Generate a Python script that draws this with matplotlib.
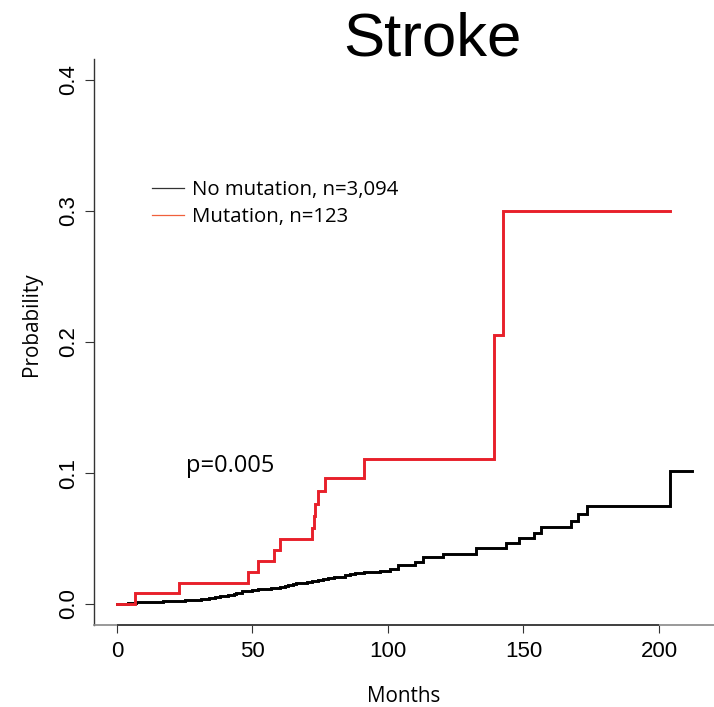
import matplotlib
matplotlib.use("Agg")
import matplotlib.pyplot as plt
from matplotlib.lines import Line2D

# cumulative incidence of stroke, step functions (months, probability)
no_mut_months = [0, 2, 4, 7, 10, 12, 15, 17, 20, 22, 25, 28, 31, 34, 36, 38,
                 40, 41, 43, 44, 46, 47, 50, 52, 55, 57, 60, 62, 63, 65, 66,
                 68, 70, 72, 74, 76, 78, 80, 82, 84, 86, 88, 89, 91, 93, 95,
                 97, 100.6, 103.6, 110, 112.8, 120.2, 132.5, 143.6, 148.5,
                 153.7, 156.5, 167.6, 170, 173.4, 204.1, 212]
no_mut_prob = [0, 0.0003, 0.0005, 0.0012, 0.0014, 0.0016, 0.0018, 0.0020,
               0.0023, 0.0025, 0.0029, 0.0033, 0.0039, 0.0045, 0.0051, 0.0058,
               0.0064, 0.0070, 0.0079, 0.0088, 0.0096, 0.0103, 0.0108, 0.0112,
               0.0117, 0.0122, 0.0130, 0.0136, 0.0142, 0.0150, 0.0158, 0.0163,
               0.0168, 0.0175, 0.0182, 0.0188, 0.0195, 0.0203, 0.0210, 0.0219,
               0.0228, 0.0234, 0.0240, 0.0243, 0.0245, 0.0248, 0.0250, 0.0267,
               0.0300, 0.0320, 0.0359, 0.0382, 0.0424, 0.0463, 0.0504, 0.0542,
               0.0585, 0.0636, 0.0689, 0.0750, 0.1017, 0.1017]

mut_months = [0, 6.5, 23, 48.3, 52.2, 58.1, 60, 71.8, 72.6, 73.1, 74.1, 76.9,
              91, 139.3, 142.5, 204]
mut_prob = [0, 0.0081, 0.0163, 0.0244, 0.0328, 0.0410, 0.0496, 0.0580,
            0.0674, 0.0766, 0.0860, 0.0962, 0.111, 0.205, 0.300, 0.300]

legend_labels = ["No mutation, n=3,094", "Mutation, n=123"]
x_ticks = [0, 50, 100, 150, 200]
y_ticks = [0.0, 0.1, 0.2, 0.3, 0.4]
p_label = "p=0.005"

NUM_FONT = "Liberation Sans"
TXT_FONT = "Open Sans"
W, H = 714, 707

fig = plt.figure(figsize=(W / 100, H / 100), dpi=100)
ax = fig.add_axes([94 / W, 1 - 625 / H, 620.5 / W, 566 / H])

ax.step(no_mut_months, no_mut_prob, where="post", color="black", lw=2.1,
        solid_joinstyle="miter")
ax.step(mut_months, mut_prob, where="post", color="#e8202a", lw=2.1,
        solid_joinstyle="miter")

# R-style limits: 4% padding on each side
xpad = 0.04 * 212
ypad = 0.04 * 0.4
ax.set_xlim(-xpad, 212 + xpad)
ax.set_ylim(-ypad, 0.4 + ypad)

for s in ("top", "right"):
    ax.spines[s].set_visible(False)
ax.spines["left"].set_color("#333333")
ax.spines["left"].set_linewidth(1.0)
ax.spines["bottom"].set_color("#888888")
ax.spines["bottom"].set_linewidth(1.2)
ax.hlines(-ypad, x_ticks[0], x_ticks[-1], color="#333333", lw=1.2,
          clip_on=False, zorder=3)

ax.set_xticks(x_ticks)
ax.set_xticklabels([str(t) for t in x_ticks], fontfamily=NUM_FONT, fontsize=16)
ax.set_yticks(y_ticks)
ax.set_yticklabels([f"{t:.1f}" for t in y_ticks], fontfamily=NUM_FONT,
                   fontsize=16, rotation=90, va="center")
ax.tick_params(axis="x", direction="out", length=6, width=0.8,
               color="#333333", pad=5.5)
ax.tick_params(axis="y", direction="out", length=6.5, width=0.8,
               color="#333333", pad=4)

fig.text(432.5 / W, 1 - 56 / H, "Stroke", fontfamily=NUM_FONT, fontsize=44.5,
         ha="center", va="baseline")
fig.text(404 / W, 1 - 702 / H, "Months", fontfamily=TXT_FONT, fontsize=14.9,
         ha="center", va="baseline")
fig.text(31 / W, 1 - 324 / H, "Probability", fontfamily=TXT_FONT,
         fontsize=14.9, ha="center", va="center", rotation=90)
fig.text(186.5 / W, 1 - 471.7 / H, p_label, fontfamily=TXT_FONT, fontsize=17,
         ha="left", va="baseline")

handles = [Line2D([], [], color="#333333", lw=0.9),
           Line2D([], [], color="#f0603c", lw=0.9)]
ax.legend(handles, legend_labels, loc="upper left",
          bbox_to_anchor=(151.7 / W, 1 - 180 / H),
          bbox_transform=fig.transFigure, frameon=False, borderpad=0,
          borderaxespad=0, handlelength=1.6, handletextpad=0.36,
          labelspacing=0.33, prop={"family": TXT_FONT, "size": 14.7})

fig.savefig("out.png", dpi=100)
